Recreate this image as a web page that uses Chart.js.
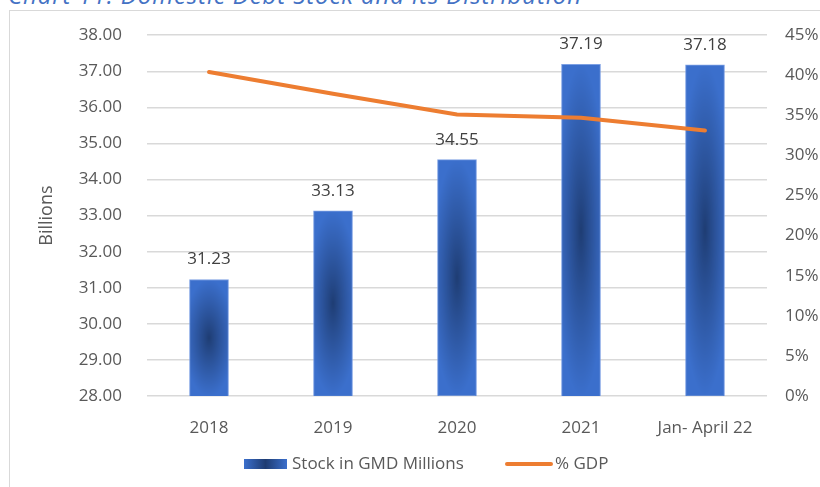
<!DOCTYPE html>
<html>
<head>
<meta charset="utf-8">
<script src="https://cdn.jsdelivr.net/npm/chart.js@4.4.1/dist/chart.umd.min.js"></script>
<style>
  html, body { margin: 0; padding: 0; background: #fff; overflow: hidden; }
  #wrap { position: relative; width: 820px; height: 487px; }
  #title {
    position: absolute; left: 8px; top: -22px;
    font: italic 24px "Open Sans", sans-serif; letter-spacing: 0.9px; color: #4472C4; white-space: nowrap;
  }
  #frame {
    position: absolute; left: 9px; top: 10px; width: 830px; height: 490px;
    border: 1.5px solid #d9d9d9;
  }
  canvas { position: absolute; left: 0; top: 0; }
</style>
</head>
<body>
<div id="wrap">
  <div id="title">Chart 11: Domestic Debt Stock and its Distribution</div>
  <div id="frame"></div>
  <canvas id="debtChart" width="820" height="487"></canvas>
</div>
<script>
const categories = ["2018", "2019", "2020", "2021", "Jan- April 22"];
const stockBillions = [31.23, 33.13, 34.55, 37.19, 37.18];
const gdpPercent = [40.4, 37.7, 35.1, 34.7, 33.1];
const leftTicks = [28, 29, 30, 31, 32, 33, 34, 35, 36, 37, 38];
const rightTicks = [0, 5, 10, 15, 20, 25, 30, 35, 40, 45];

const DARK = [30, 60, 114];
const LIGHT = [59, 111, 204];
const FONT = "Open Sans";
const patternCache = {};

// Excel-style "path" gradient: dark in the middle, lighter toward the edges
function barFill(ctx) {
  const chart = ctx.chart;
  const xs = chart.scales.x, ys = chart.scales.y;
  if (!xs || !ys || ctx.type !== "data") return "#3B6FCC";
  const w = 39;
  const top = ys.getPixelForValue(ctx.raw);
  const bottom = ys.getPixelForValue(28);
  const left = xs.getPixelForValue(ctx.dataIndex) - w / 2;
  if (!isFinite(top) || !isFinite(bottom) || !isFinite(left)) return "#3B6FCC";
  const h = Math.max(2, Math.round(bottom - top));
  const key = ctx.dataIndex + "_" + h;
  let pat = patternCache[key];
  if (!pat) {
    const off = document.createElement("canvas");
    off.width = w; off.height = h;
    const c = off.getContext("2d");
    const img = c.createImageData(w, h);
    for (let j = 0; j < h; j++) {
      for (let i = 0; i < w; i++) {
        const dx = Math.abs(i + 0.5 - w / 2) / (w / 2);
        const dy = Math.abs(j + 0.5 - h / 2) / (h / 2);
        let t = Math.min(1, Math.sqrt(dx * dx * 0.6 + dy * dy));
        t = Math.pow(t, 0.9);
        const k = (j * w + i) * 4;
        img.data[k] = DARK[0] + (LIGHT[0] - DARK[0]) * t;
        img.data[k + 1] = DARK[1] + (LIGHT[1] - DARK[1]) * t;
        img.data[k + 2] = DARK[2] + (LIGHT[2] - DARK[2]) * t;
        img.data[k + 3] = 255;
      }
    }
    c.putImageData(img, 0, 0);
    pat = chart.ctx.createPattern(off, "no-repeat");
    patternCache[key] = pat;
  }
  pat.setTransform(new DOMMatrix().translate(left, top));
  return pat;
}

// value labels above the bars + legend at the bottom
const extras = {
  id: "extras",
  afterDatasetsDraw(chart) {
    const c = chart.ctx;
    const meta = chart.getDatasetMeta(1);
    c.save();
    c.font = '17px "' + FONT + '", sans-serif';
    c.fillStyle = "#404040";
    c.textAlign = "center";
    c.textBaseline = "middle";
    meta.data.forEach((bar, i) => {
      c.fillText(stockBillions[i].toFixed(2), bar.x, bar.y - 20);
    });
    c.restore();
  },
  afterDraw(chart) {
    const c = chart.ctx;
    c.save();
    const lg = c.createLinearGradient(244, 0, 287, 0);
    lg.addColorStop(0, "rgb(59,111,204)");
    lg.addColorStop(0.5, "rgb(30,60,114)");
    lg.addColorStop(1, "rgb(59,111,204)");
    c.fillStyle = lg;
    c.fillRect(244, 459, 43, 10);
    c.strokeStyle = "#ED7D31";
    c.lineWidth = 4;
    c.lineCap = "round";
    c.beginPath();
    c.moveTo(507, 464);
    c.lineTo(551, 464);
    c.stroke();
    c.font = '17px "' + FONT + '", sans-serif';
    c.fillStyle = "#595959";
    c.textBaseline = "middle";
    c.fillText("Stock in GMD Millions", 292, 464);
    c.fillText("% GDP", 555, 464);
    c.restore();
  }
};

new Chart(document.getElementById("debtChart"), {
  data: {
    labels: categories,
    datasets: [
      {
        type: "line",
        label: "% GDP",
        data: gdpPercent,
        yAxisID: "y1",
        borderColor: "#ED7D31",
        borderWidth: 4,
        pointRadius: 0,
        tension: 0,
        borderCapStyle: "round",
        order: 0
      },
      {
        type: "bar",
        label: "Stock in GMD Millions",
        data: stockBillions,
        yAxisID: "y",
        backgroundColor: barFill,
        borderColor: "rgba(110,150,225,0.9)",
        borderWidth: 1,
        barThickness: 39,
        order: 1
      }
    ]
  },
  options: {
    responsive: false,
    animation: false,
    layout: { padding: { top: 33, left: 0, right: 0, bottom: 0 } },
    plugins: {
      legend: { display: false },
      tooltip: { enabled: false }
    },
    scales: {
      x: {
        grid: { display: false },
        border: { display: false },
        ticks: { color: "#595959", font: { family: FONT, size: 17 }, padding: 14, maxRotation: 0 },
        afterFit(s) { s.height = 91; }
      },
      y: {
        position: "left",
        min: 28,
        max: 38,
        afterBuildTicks(s) { s.ticks = leftTicks.map(v => ({ value: v })); },
        ticks: {
          color: "#595959",
          font: { family: FONT, size: 17 },
          padding: 25,
          callback: v => v.toFixed(2)
        },
        grid: { color: "#d9d9d9", lineWidth: 1.5, drawTicks: false },
        border: { display: false },
        title: {
          display: true,
          text: "Billions",
          color: "#595959",
          font: { family: FONT, size: 18 },
          padding: { top: 36, bottom: 0 }
        },
        afterFit(s) { s.width = 147; }
      },
      y1: {
        position: "right",
        min: 0,
        max: 45,
        afterBuildTicks(s) { s.ticks = rightTicks.map(v => ({ value: v })); },
        ticks: {
          color: "#595959",
          font: { family: FONT, size: 17 },
          padding: 18,
          callback: v => v + "%"
        },
        grid: { display: false, drawTicks: false },
        border: { display: false },
        afterFit(s) { s.width = 53; }
      }
    }
  },
  plugins: [extras]
});
</script>
</body>
</html>
